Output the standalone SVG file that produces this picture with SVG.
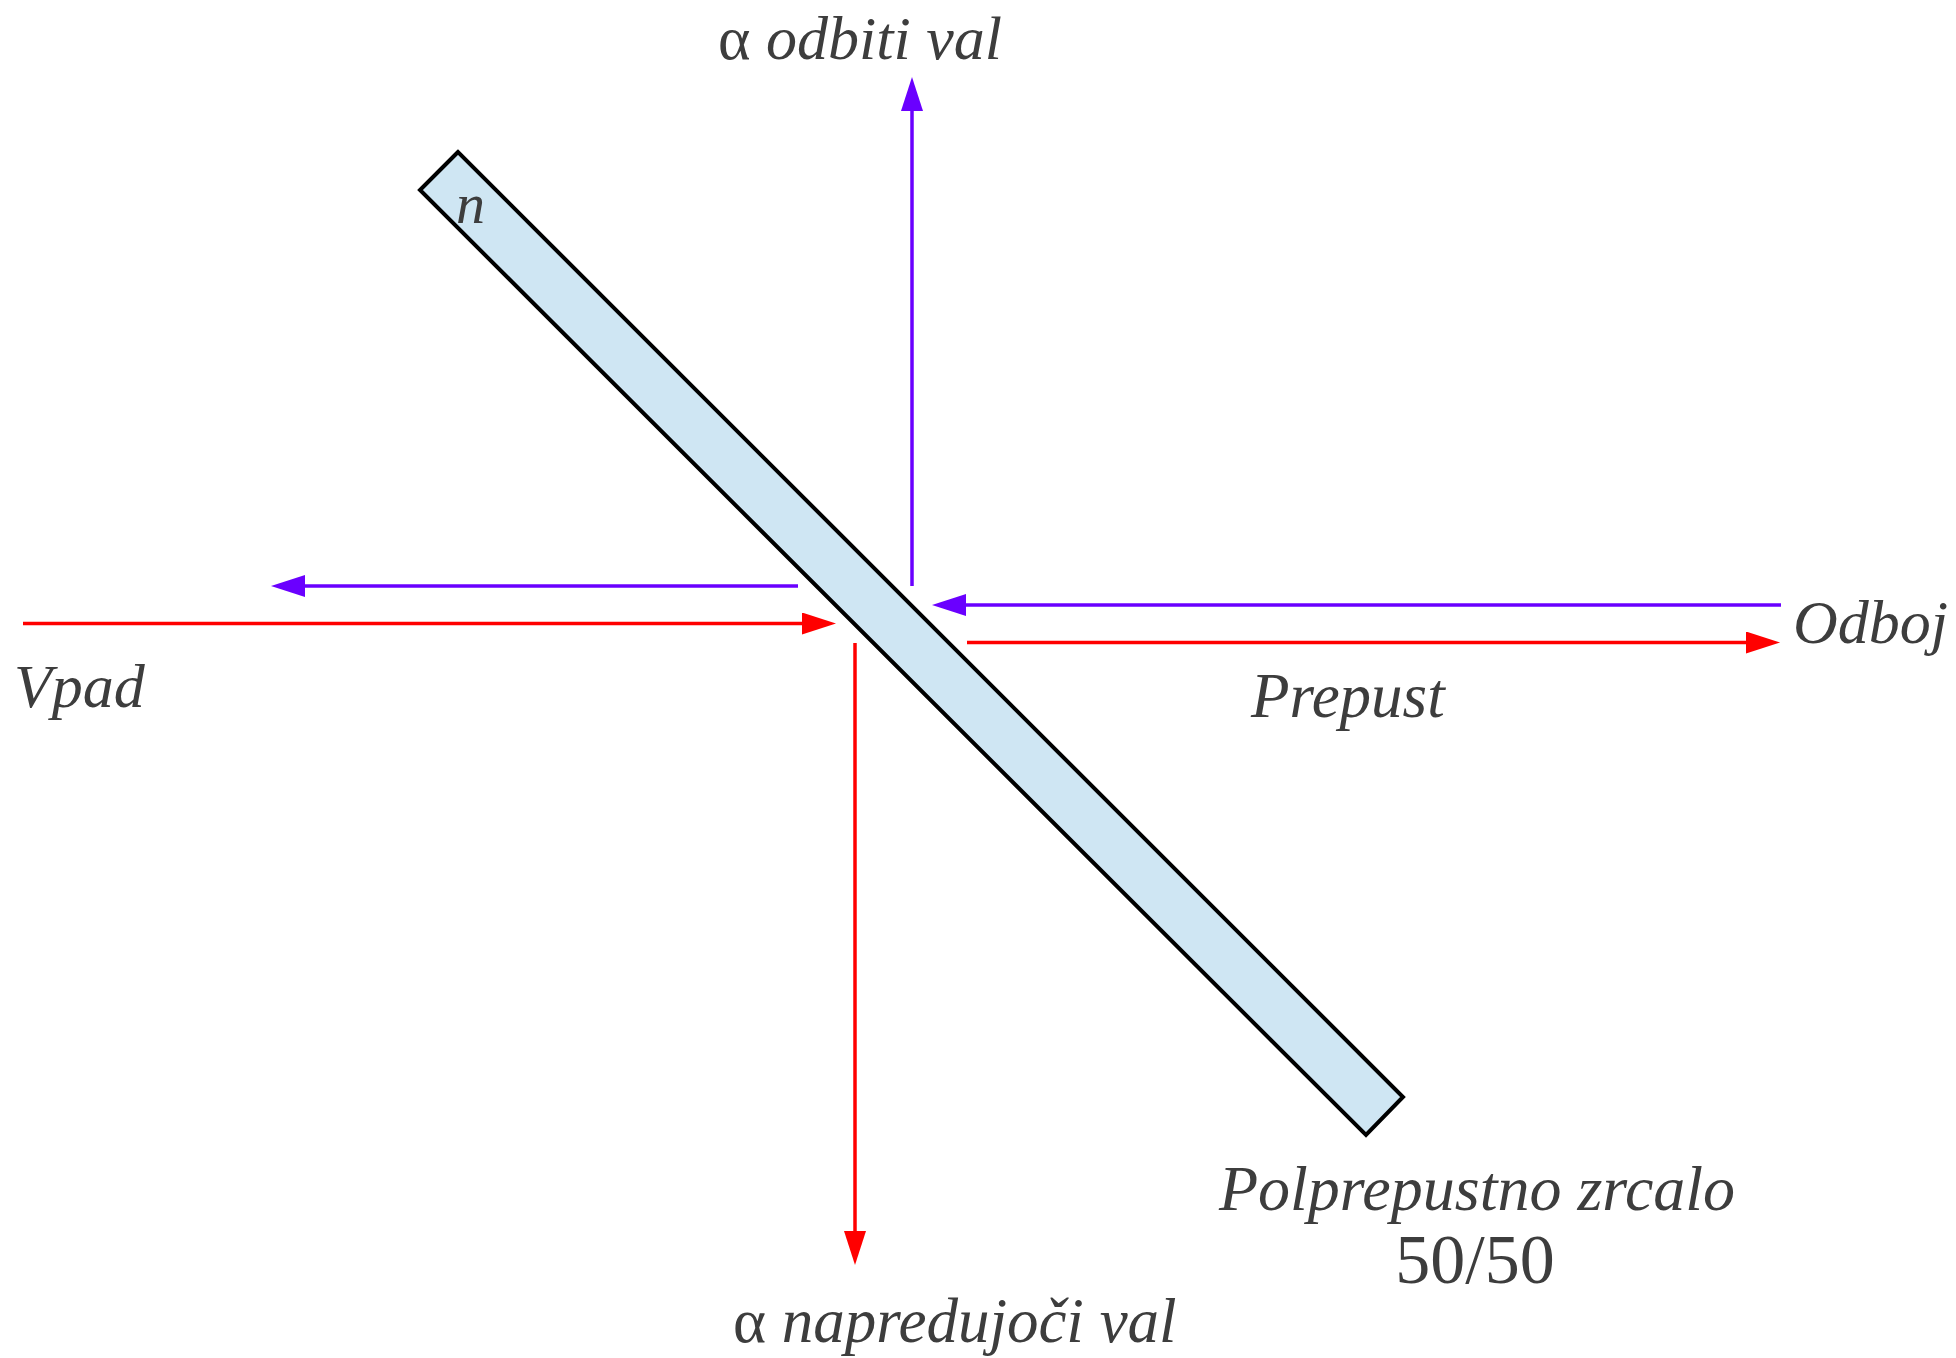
<svg xmlns="http://www.w3.org/2000/svg" width="1956" height="1358" viewBox="0 0 1956 1358">
<style>
.lbl{font-family:"Liberation Serif","Times New Roman",serif;font-style:italic;fill:#3d3d3d;font-size:62px}
.up{font-style:normal}
.red{stroke:#ff0000;stroke-width:3.5;fill:none}
.pur{stroke:#6a00ff;stroke-width:3.5;fill:none}
</style>
<defs>
<marker id="ar" markerUnits="userSpaceOnUse" markerWidth="36" markerHeight="24" refX="2" refY="11" orient="auto"><path d="M0,0 L34,11 L0,22 z" fill="#ff0000"/></marker>
<marker id="ap" markerUnits="userSpaceOnUse" markerWidth="36" markerHeight="24" refX="2" refY="11" orient="auto"><path d="M0,0 L34,11 L0,22 z" fill="#6a00ff"/></marker>
</defs>
<rect width="1956" height="1358" fill="#ffffff"/>
<g id="mirror">
<polygon points="458,152 420,190 1366,1135 1403,1097" fill="#cfe6f3" stroke="#000" stroke-width="4" stroke-linejoin="miter"/>
<text class="lbl" x="456" y="223" style="font-size:58px">n</text>
</g>
<g id="connectors">
<path class="red" d="M23,623.5 H804" marker-end="url(#ar)"/>
<path class="red" d="M855,643 V1233" marker-end="url(#ar)"/>
<path class="red" d="M967,642.5 H1748" marker-end="url(#ar)"/>
<path class="pur" d="M912,586 V109" marker-end="url(#ap)"/>
<path class="pur" d="M798,586 H303" marker-end="url(#ap)"/>
<path class="pur" d="M1781,605 H964" marker-end="url(#ap)"/>
</g>
<g id="labels">
<text class="lbl" x="718" y="59"><tspan class="up">α</tspan> odbiti val</text>
<text class="lbl" x="733" y="1342" style="font-size:63px"><tspan class="up">α</tspan> napredujoči val</text>
<text class="lbl" x="14" y="707">Vpad</text>
<text class="lbl" x="1251" y="717" style="font-size:63px">Prepust</text>
<text class="lbl" x="1793" y="643">Odboj</text>
<text class="lbl" x="1477" y="1210" text-anchor="middle" style="font-size:64px">Polprepustno zrcalo</text>
<text class="lbl up" x="1475" y="1283" text-anchor="middle" style="font-size:70px">50/50</text>
</g>
</svg>
